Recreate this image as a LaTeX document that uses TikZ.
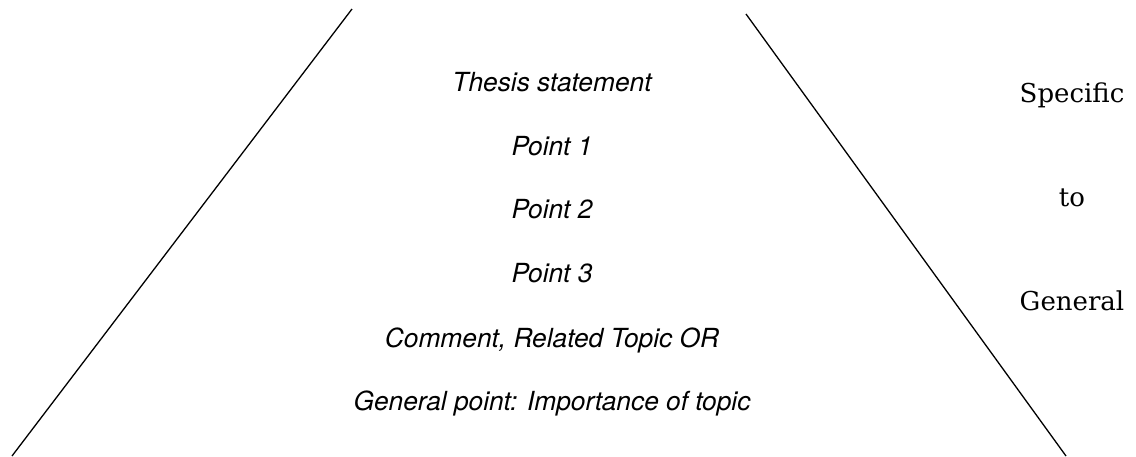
\documentclass[tikz,border=0pt]{standalone}
\usepackage{fontspec}
\newfontfamily\heros{TeX Gyre Heros}
\newfontfamily\slab{DejaVu Serif}
\tikzset{
	stage/.style={anchor=base, inner sep=0pt, font=\heros\itshape\fontsize{26.3}{30}\selectfont},
	side/.style={anchor=base, inner sep=0pt, font=\slab\fontsize{26}{30}\selectfont},
	edge/.style={line width=1.3pt}
}

\begin{document}
\begin{tikzpicture}[x=1pt, y=-1pt]
	\useasboundingbox (0,0) rectangle (1136,456);
	\coordinate (ltop) at (352,9);
	\coordinate (lbot) at (12,456);
	\coordinate (rtop) at (746,14);
	\coordinate (rbot) at (1066,456);
	\draw[edge] (ltop) -- (lbot);
	\draw[edge] (rtop) -- (rbot);
	\node[stage] (thesis) at (552,91) {Thesis statement};
	\node[stage] (pt1) at (552,155) {Point 1};
	\node[stage] (pt2) at (552,218) {Point 2};
	\node[stage] (pt3) at (552,282) {Point 3};
	\node[stage] (comment) at (552,347) {Comment, Related Topic OR};
	\node[stage] (general) at (552,410) {General point: Importance of topic};
	\node[side] (specific) at (1072,102) {Specific};
	\node[side] (to) at (1072,206) {to};
	\node[side] (gen) at (1072,310) {General};
\end{tikzpicture}
\end{document}
